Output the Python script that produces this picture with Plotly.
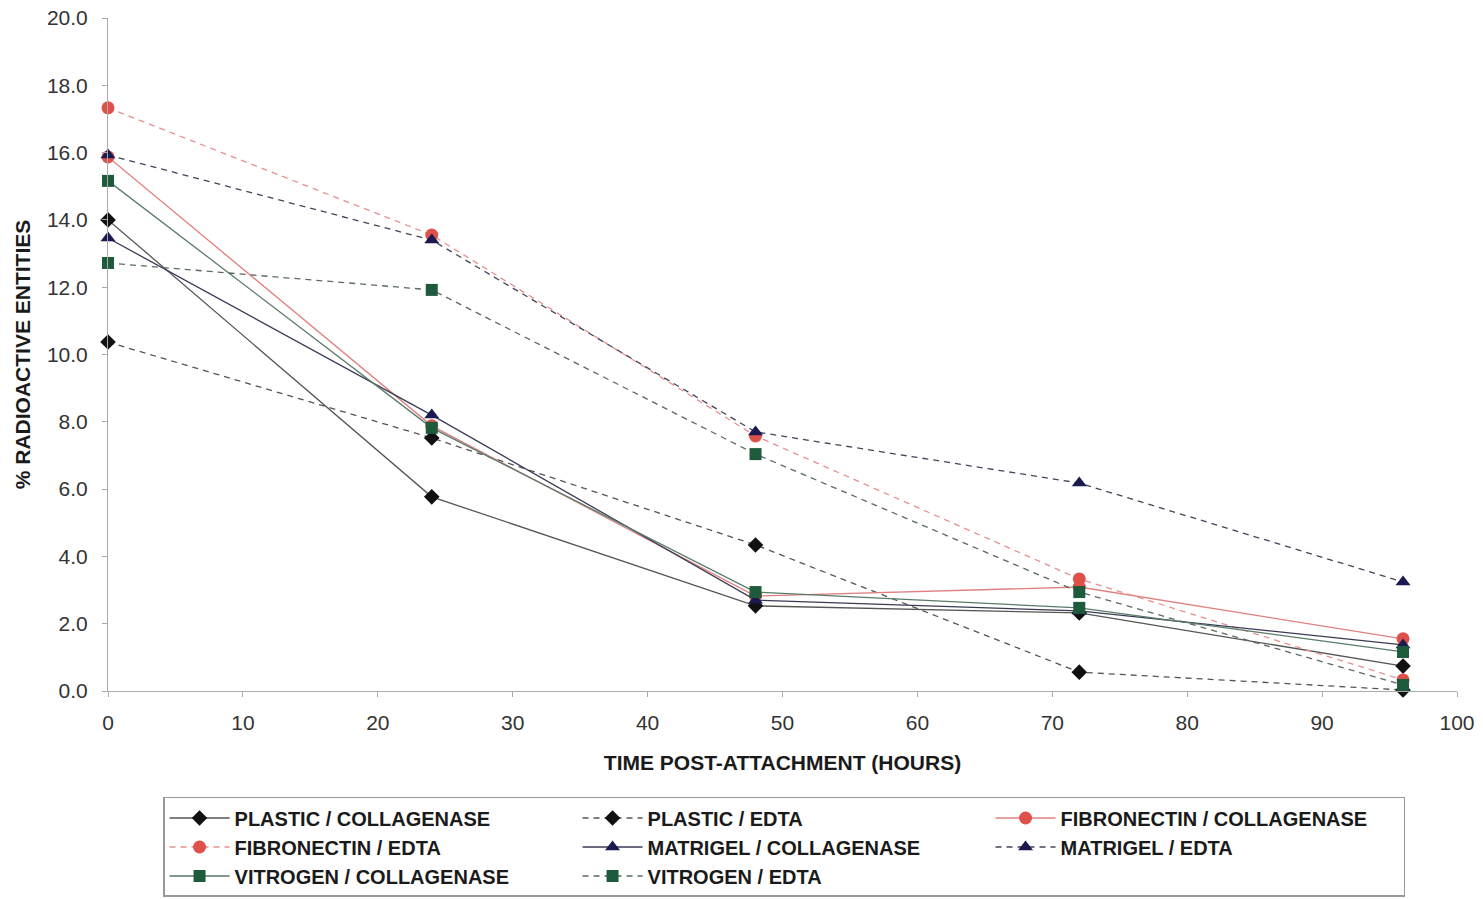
import plotly.graph_objects as go

# Time points (hours post-attachment)
hours = [0, 24, 48, 72, 96]

# % radioactive entities per substrate / release method
plastic_collagenase = [14.0, 5.77, 2.53, 2.32, 0.74]
plastic_edta = [10.37, 7.52, 4.34, 0.56, 0.03]
fibronectin_collagenase = [15.87, 7.88, 2.82, 3.09, 1.55]
fibronectin_edta = [17.33, 13.55, 7.58, 3.33, 0.33]
matrigel_collagenase = [13.46, 8.2, 2.7, 2.38, 1.37]
matrigel_edta = [15.93, 13.4, 7.7, 6.18, 3.24]
vitrogen_collagenase = [15.16, 7.82, 2.94, 2.47, 1.16]
vitrogen_edta = [12.72, 11.92, 7.04, 2.94, 0.18]

series = [
    ("PLASTIC / COLLAGENASE", plastic_collagenase, "solid", "#555555", "#111111", "diamond", 12),
    ("PLASTIC / EDTA", plastic_edta, "6px,5px", "#555555", "#111111", "diamond", 12),
    ("FIBRONECTIN / COLLAGENASE", fibronectin_collagenase, "solid", "#e08080", "#e0504a", "circle", 13),
    ("FIBRONECTIN / EDTA", fibronectin_edta, "6px,5px", "#e89090", "#e0504a", "circle", 13),
    ("MATRIGEL / COLLAGENASE", matrigel_collagenase, "solid", "#3a3a55", "#1a1a50", "triangle-up", 13),
    ("MATRIGEL / EDTA", matrigel_edta, "6px,5px", "#44445a", "#1a1a50", "triangle-up", 13),
    ("VITROGEN / COLLAGENASE", vitrogen_collagenase, "solid", "#5a7a6a", "#1e5a3c", "square", 12),
    ("VITROGEN / EDTA", vitrogen_edta, "6px,5px", "#5a6a62", "#1e5a3c", "square", 12),
]

fig = go.Figure()
for name, vals, dash, lcol, mcol, sym, size in series:
    fig.add_trace(go.Scatter(
        x=hours, y=vals, name=name, mode="lines+markers", cliponaxis=False,
        line=dict(color=lcol, width=1.3, dash=dash),
        marker=dict(color=mcol, symbol=sym, size=size, line=dict(width=0)),
    ))

fig.update_layout(
    width=1483, height=899,
    margin=dict(l=108, r=26, t=18, b=208, autoexpand=False),
    paper_bgcolor="white", plot_bgcolor="white",
    font=dict(family="Liberation Sans, Arial, sans-serif", size=21, color="#222222"),
    showlegend=True,
    legend=dict(
        orientation="h", x=0.0408, y=-0.1575, xanchor="left", yanchor="top",
        entrywidth=338, entrywidthmode="pixels", itemwidth=60,
        bordercolor="#999999", borderwidth=1.5,
        font=dict(size=20, color="#1a1a1a", weight="bold"),
        tracegroupgap=0,
    ),
    xaxis=dict(
        range=[0, 100], dtick=10, tick0=0,
        showgrid=False, zeroline=False,
        showline=True, linecolor="#aaaaaa", linewidth=1,
        ticks="outside", ticklen=5, tickcolor="#aaaaaa",
        ticklabelstandoff=8,
        tickfont=dict(size=21, color="#333333"),
        title=dict(text="TIME POST-ATTACHMENT (HOURS)",
                   font=dict(size=21, weight="bold", color="#1a1a1a"), standoff=22),
    ),
    yaxis=dict(
        range=[0, 20], dtick=2, tick0=0, tickformat=".1f",
        showgrid=False, zeroline=False,
        showline=True, linecolor="#aaaaaa", linewidth=1,
        ticks="outside", ticklen=5, tickcolor="#aaaaaa",
        ticklabelstandoff=10,
        tickfont=dict(size=21, color="#333333"),
        title=dict(text="% RADIOACTIVE ENTITIES",
                   font=dict(size=21, weight="bold", color="#1a1a1a"), standoff=10),
    ),
)

fig.write_html("out.html")
